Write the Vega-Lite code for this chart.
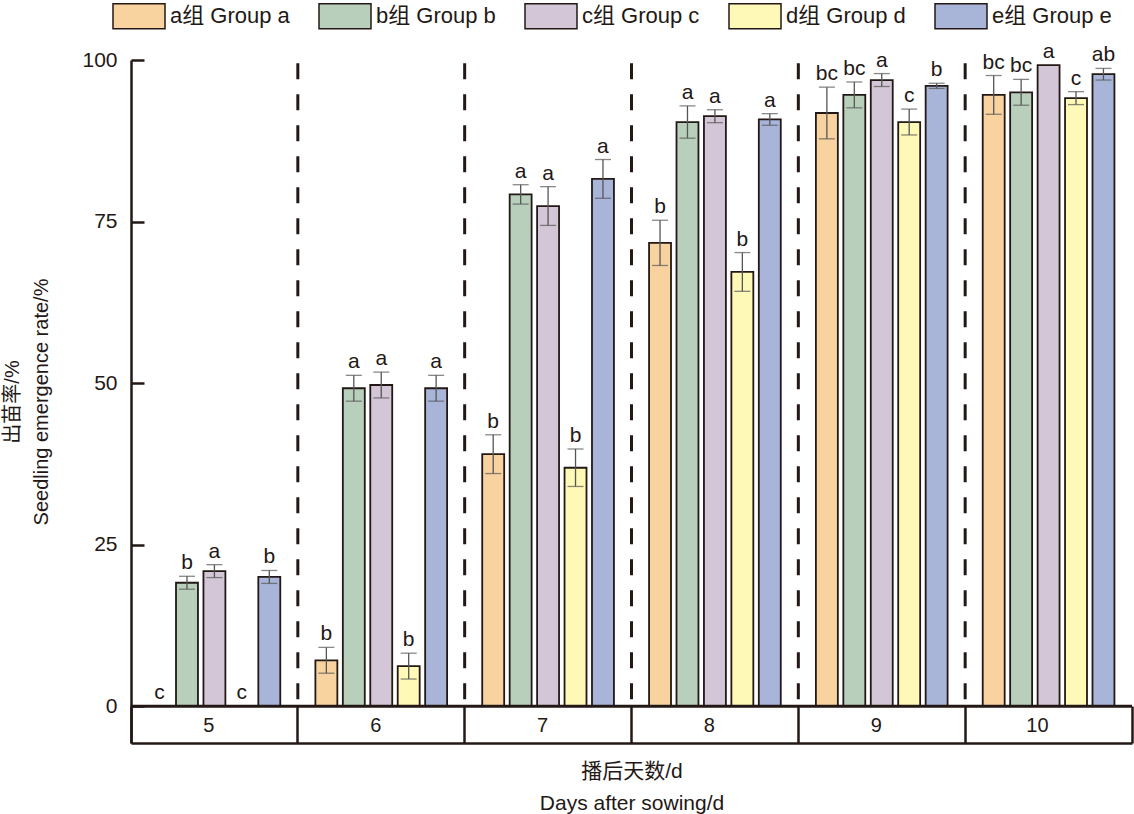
{
  "$schema": "https://vega.github.io/schema/vega-lite/v6.json",
  "description": "Seedling emergence rate by days after sowing",
  "width": 1001,
  "height": 683,
  "autosize": {"type": "none"},
  "padding": {"left": 131, "top": 60, "right": 2, "bottom": 71},
  "config": {
    "view": {"stroke": null},
    "font": "Liberation Sans, Noto Sans CJK SC",
    "axis": {"grid": false, "titleFontWeight": "normal"}
  },
  "data": {
    "values": [
      {"day": 5, "group": "a组 Group a", "rate": 0, "lo": 0, "hi": 0, "sig": "c"},
      {"day": 5, "group": "b组 Group b", "rate": 19.1, "lo": 18.1, "hi": 20.1, "sig": "b"},
      {"day": 5, "group": "c组 Group c", "rate": 20.9, "lo": 19.9, "hi": 21.9, "sig": "a"},
      {"day": 5, "group": "d组 Group d", "rate": 0, "lo": 0, "hi": 0, "sig": "c"},
      {"day": 5, "group": "e组 Group e", "rate": 20.0, "lo": 19.0, "hi": 21.0, "sig": "b"},
      {"day": 6, "group": "a组 Group a", "rate": 7.1, "lo": 5.1, "hi": 9.1, "sig": "b"},
      {"day": 6, "group": "b组 Group b", "rate": 49.2, "lo": 47.2, "hi": 51.2, "sig": "a"},
      {"day": 6, "group": "c组 Group c", "rate": 49.7, "lo": 47.7, "hi": 51.7, "sig": "a"},
      {"day": 6, "group": "d组 Group d", "rate": 6.2, "lo": 4.2, "hi": 8.2, "sig": "b"},
      {"day": 6, "group": "e组 Group e", "rate": 49.2, "lo": 47.2, "hi": 51.2, "sig": "a"},
      {"day": 7, "group": "a组 Group a", "rate": 39.0, "lo": 36.0, "hi": 42.0, "sig": "b"},
      {"day": 7, "group": "b组 Group b", "rate": 79.2, "lo": 77.7, "hi": 80.7, "sig": "a"},
      {"day": 7, "group": "c组 Group c", "rate": 77.4, "lo": 74.4, "hi": 80.4, "sig": "a"},
      {"day": 7, "group": "d组 Group d", "rate": 36.9, "lo": 34.0, "hi": 39.8, "sig": "b"},
      {"day": 7, "group": "e组 Group e", "rate": 81.6, "lo": 78.6, "hi": 84.6, "sig": "a"},
      {"day": 8, "group": "a组 Group a", "rate": 71.7, "lo": 68.2, "hi": 75.2, "sig": "b"},
      {"day": 8, "group": "b组 Group b", "rate": 90.4, "lo": 87.9, "hi": 92.9, "sig": "a"},
      {"day": 8, "group": "c组 Group c", "rate": 91.3, "lo": 90.3, "hi": 92.3, "sig": "a"},
      {"day": 8, "group": "d组 Group d", "rate": 67.2, "lo": 64.2, "hi": 70.2, "sig": "b"},
      {"day": 8, "group": "e组 Group e", "rate": 90.8, "lo": 89.9, "hi": 91.7, "sig": "a"},
      {"day": 9, "group": "a组 Group a", "rate": 91.8, "lo": 87.8, "hi": 95.8, "sig": "bc"},
      {"day": 9, "group": "b组 Group b", "rate": 94.6, "lo": 92.6, "hi": 96.6, "sig": "bc"},
      {"day": 9, "group": "c组 Group c", "rate": 96.9, "lo": 95.9, "hi": 97.9, "sig": "a"},
      {"day": 9, "group": "d组 Group d", "rate": 90.4, "lo": 88.4, "hi": 92.4, "sig": "c"},
      {"day": 9, "group": "e组 Group e", "rate": 96.0, "lo": 95.6, "hi": 96.4, "sig": "b"},
      {"day": 10, "group": "a组 Group a", "rate": 94.6, "lo": 91.6, "hi": 97.6, "sig": "bc"},
      {"day": 10, "group": "b组 Group b", "rate": 95.0, "lo": 93.0, "hi": 97.0, "sig": "bc"},
      {"day": 10, "group": "c组 Group c", "rate": 99.2, "lo": 99.2, "hi": 99.2, "sig": "a"},
      {"day": 10, "group": "d组 Group d", "rate": 94.1, "lo": 93.1, "hi": 95.1, "sig": "c"},
      {"day": 10, "group": "e组 Group e", "rate": 97.8, "lo": 96.9, "hi": 98.7, "sig": "ab"}
    ]
  },
  "layer": [
    {
      "transform": [{"filter": "datum.group == 'a组 Group a' && datum.day > 5"}],
      "mark": {"type": "rule", "strokeDash": [16, 15], "strokeWidth": 3, "color": "#231815"},
      "encoding": {
        "x": {"field": "day", "type": "ordinal", "bandPosition": 0},
        "y": {"datum": 99.5, "type": "quantitative"},
        "y2": {"datum": 0}
      }
    },
    {
      "mark": {"type": "bar", "stroke": "#231815", "strokeWidth": 1.8},
      "encoding": {
        "x": {
          "field": "day",
          "type": "ordinal",
          "scale": {"paddingInner": 0, "paddingOuter": 0},
          "axis": {
            "title": ["播后天数/d", "Days after sowing/d"],
            "labelAngle": 0,
            "bandPosition": 1,
            "tickExtra": true,
            "tickSize": -37,
            "tickWidth": 2.5,
            "tickColor": "#231815",
            "domainWidth": 2.5,
            "domainColor": "#231815",
            "labelFontSize": 20,
            "labelBaseline": "middle",
            "labelPadding": 19,
            "labelColor": "#231815",
            "titleFontSize": 21,
            "titleLineHeight": 32,
            "titlePadding": 16,
            "titleColor": "#231815"
          }
        },
        "xOffset": {
          "field": "group",
          "type": "nominal",
          "scale": {"paddingInner": 0.2, "paddingOuter": 0.64}
        },
        "y": {
          "field": "rate",
          "type": "quantitative",
          "scale": {"domain": [-5.7, 100], "nice": false, "zero": false},
          "axis": {
            "title": ["出苗率/%", "Seedling emergence rate/%"],
            "values": [0, 25, 50, 75, 100],
            "domainColor": "#231815",
            "domainWidth": 2.5,
            "tickColor": "#231815",
            "tickWidth": 2.5,
            "tickSize": -13,
            "labelFontSize": 21,
            "labelPadding": 27,
            "labelColor": "#231815",
            "titleFontSize": 20,
            "titleLineHeight": 29,
            "titlePadding": 30,
            "titleColor": "#231815"
          }
        },
        "y2": {"datum": 0},
        "color": {
          "field": "group",
          "type": "nominal",
          "scale": {
            "domain": ["a组 Group a", "b组 Group b", "c组 Group c", "d组 Group d", "e组 Group e"],
            "range": ["#f8d3a0", "#b8d0bb", "#d3c6d6", "#fff9b8", "#a8b5d9"]
          },
          "legend": {
            "orient": "none",
            "legendX": -19,
            "legendY": -71,
            "direction": "horizontal",
            "title": null,
            "padding": 0,
            "symbolType": "M-1,-0.48H1V0.48H-1Z",
            "symbolSize": 2704,
            "symbolStrokeColor": "#231815",
            "symbolStrokeWidth": 1.5,
            "symbolOpacity": 1,
            "labelFontSize": 22,
            "labelOffset": 4,
            "labelLimit": 300,
            "labelColor": "#231815",
            "columnPadding": 26
          }
        }
      }
    },
    {
      "transform": [{"filter": "datum.hi > datum.lo"}],
      "mark": {"type": "rule", "color": "#555555", "strokeWidth": 1.3},
      "encoding": {
        "x": {"field": "day", "type": "ordinal"},
        "xOffset": {"field": "group", "type": "nominal"},
        "y": {"field": "lo", "type": "quantitative"},
        "y2": {"field": "hi"}
      }
    },
    {
      "transform": [{"filter": "datum.hi > datum.lo"}],
      "mark": {"type": "tick", "color": "#555555", "thickness": 1.3, "size": 16},
      "encoding": {
        "x": {"field": "day", "type": "ordinal"},
        "xOffset": {"field": "group", "type": "nominal"},
        "y": {"field": "lo", "type": "quantitative"}
      }
    },
    {
      "transform": [{"filter": "datum.hi > datum.lo"}],
      "mark": {"type": "tick", "color": "#555555", "thickness": 1.3, "size": 16},
      "encoding": {
        "x": {"field": "day", "type": "ordinal"},
        "xOffset": {"field": "group", "type": "nominal"},
        "y": {"field": "hi", "type": "quantitative"}
      }
    },
    {
      "mark": {"type": "text", "baseline": "alphabetic", "dy": -7, "fontSize": 21, "color": "#231815"},
      "encoding": {
        "x": {"field": "day", "type": "ordinal"},
        "xOffset": {"field": "group", "type": "nominal"},
        "y": {"field": "hi", "type": "quantitative"},
        "text": {"field": "sig"}
      }
    },
    {
      "transform": [{"filter": "datum.group == 'a组 Group a' && datum.day == 5"}],
      "mark": {"type": "rule", "color": "#231815", "strokeWidth": 3},
      "encoding": {
        "y": {"datum": 0, "type": "quantitative"}
      }
    }
  ]
}
